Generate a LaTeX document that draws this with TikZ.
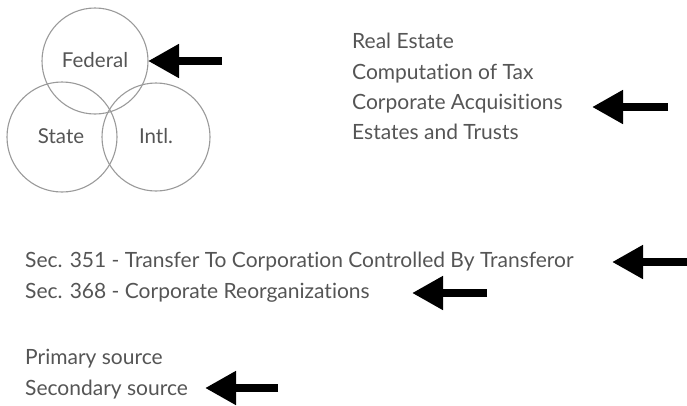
\documentclass[tikz,border=0pt]{standalone}
\usepackage{fontspec}
\setmainfont{Lato}[Ligatures={NoCommon,NoRare,NoContextual}]
\usetikzlibrary{arrows.meta}
\definecolor{txt}{HTML}{555555}
\definecolor{ring}{HTML}{9A9A9A}
\tikzset{
  lbl/.style={text=txt, font=\fontsize{21}{21}\selectfont, inner sep=0pt, anchor=base west},
  clbl/.style={text=txt, font=\fontsize{20.5}{20.5}\selectfont, inner sep=0pt, anchor=base},
  ringc/.style={draw=ring, line width=1.1pt},
  bigarrow/.style={line width=8pt, -{Triangle[length=31pt,width=32pt]}, black}
}
\begin{document}
\begin{tikzpicture}[x=1pt,y=-1pt]
\useasboundingbox (0,0) rectangle (687,405);
% circles
\draw[ringc] (95,61) circle (53);
\draw[ringc] (62,137) circle (55);
\draw[ringc] (156,137) circle (54);
\node[clbl] (fed) at (95,67) {Federal};
\node[clbl] (state) at (61,143) {State};
\node[clbl] (intl) at (156,143) {Intl.};
% right list
\node[lbl] (re) at (352,48.5) {Real Estate};
\node[lbl] (ct) at (352,79) {Computation of Tax};
\node[lbl] (ca) at (352,109.5) {Corporate Acquisitions};
\node[lbl] (et) at (352,139.5) {Estates and Trusts};
% sections
\node[lbl] (s351) at (25,267.5) {Sec. 351 - Transfer To Corporation Controlled By Transferor};
\node[lbl] (s368) at (25,298.5) {Sec. 368 - Corporate Reorganizations};
\node[lbl] (ps) at (25,364.5) {Primary source};
\node[lbl] (ss) at (25,395.5) {Secondary source};
% arrows
\coordinate (a1t) at (222,61); \coordinate (a1h) at (148,61);
\coordinate (a2t) at (668,107); \coordinate (a2h) at (592,107);
\coordinate (a3t) at (687,262); \coordinate (a3h) at (612,262);
\coordinate (a4t) at (487,293); \coordinate (a4h) at (412,293);
\coordinate (a5t) at (278,388); \coordinate (a5h) at (205,388);
\draw[bigarrow] (a1t) -- (a1h);
\draw[bigarrow] (a2t) -- (a2h);
\draw[bigarrow] (a3t) -- (a3h);
\draw[bigarrow] (a4t) -- (a4h);
\draw[bigarrow] (a5t) -- (a5h);
\end{tikzpicture}
\end{document}
